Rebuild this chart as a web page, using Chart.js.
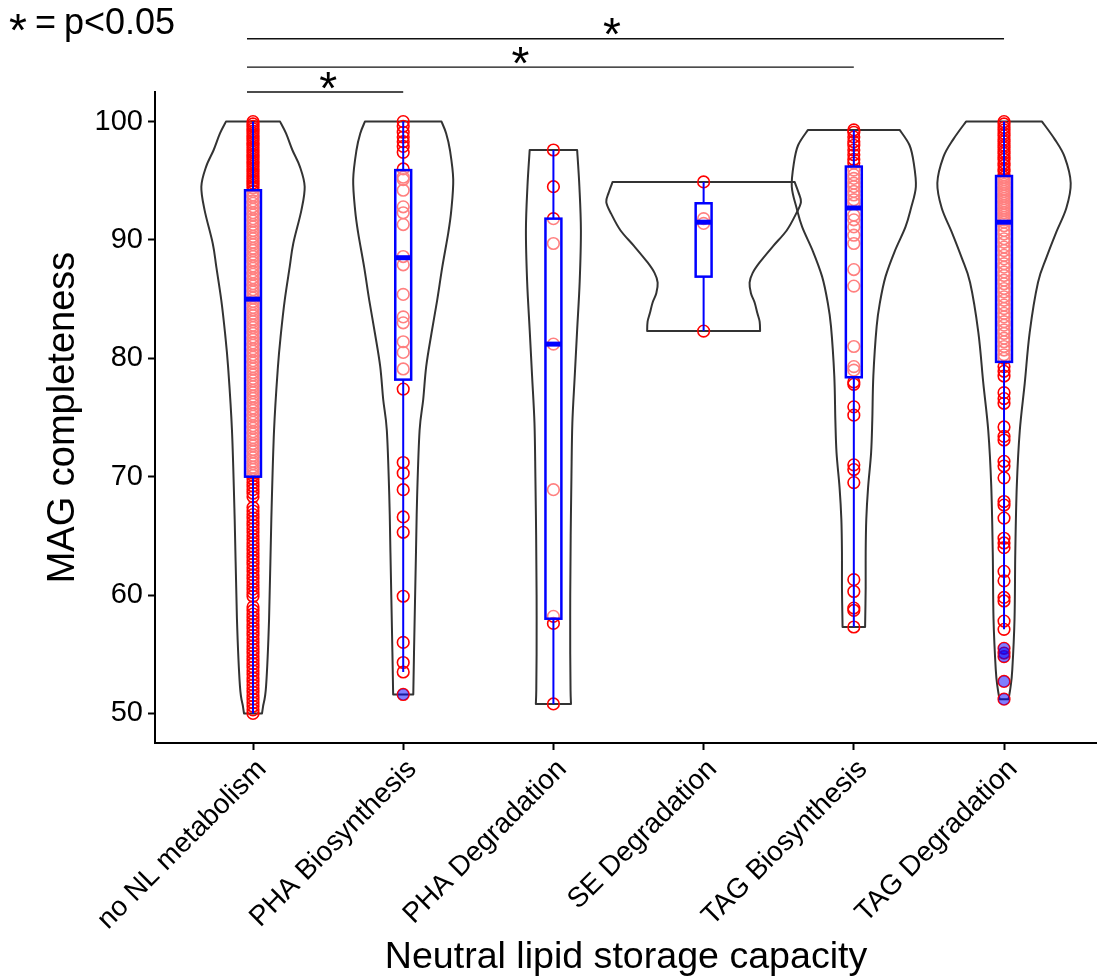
<!DOCTYPE html>
<html>
<head>
<meta charset="utf-8">
<script src="https://cdn.jsdelivr.net/npm/chart.js@4/dist/chart.umd.min.js"></script>
<style>
  html, body { margin: 0; padding: 0; background: #fff; }
  #wrap { width: 1097px; height: 980px; }
</style>
</head>
<body>
<div id="wrap"><canvas id="c" width="1097" height="980"></canvas></div>
<script>
// ---- data ----
const categories = ['no NL metabolism', 'PHA Biosynthesis', 'PHA Degradation',
                    'SE Degradation', 'TAG Biosynthesis', 'TAG Degradation'];
const yTicks = [50, 60, 70, 80, 90, 100];

// MAG completeness of each genome, per group
const completenessNoNL = [100, 99.8, 99.6, 99.4, 99.2, 99.0, 98.8, 98.6, 98.4, 98.2, 98.0, 97.8, 97.6, 97.4, 97.2,
  97.0, 96.8, 96.6, 96.4, 96.2, 96.0, 95.8, 95.6, 95.4, 95.2, 95.0, 94.8, 94.6, 94.4,
  94.1, 93.8, 93.6, 93.3, 93.1, 92.8, 92.6, 92.3, 92.1, 91.8, 91.6, 91.3, 91.1, 90.8, 90.6, 90.3, 90.1, 89.8,
  89.6, 89.3, 89.1, 88.8, 88.6, 88.3, 88.1, 87.8, 87.6, 87.3, 87.1, 86.8, 86.6, 86.3, 86.1, 85.8, 85.6, 85.3,
  85.1, 84.8, 84.6, 84.3, 84.1, 83.8, 83.6, 83.3, 83.1, 82.8, 82.6, 82.3, 82.1, 81.8, 81.6, 81.3, 81.1, 80.8,
  80.6, 80.3, 80.1, 79.8, 79.6, 79.3, 79.1, 78.8, 78.6, 78.3, 78.1, 77.8, 77.6, 77.3, 77.1, 76.8, 76.6, 76.3,
  76.1, 75.8, 75.6, 75.3, 75.1, 74.8, 74.6, 74.3, 74.1, 73.8, 73.6, 73.3, 73.1, 72.8, 72.6, 72.3, 72.1, 71.8,
  71.6, 71.3, 71.1, 70.8, 70.6, 70.3, 70.1,
  69.8, 69.5, 69.2, 68.9, 68.6, 68.3, 67.4, 67.1, 66.8, 66.5, 66.2, 65.9, 65.6, 65.3, 65.0, 64.7, 64.4, 64.1,
  63.8, 63.5, 63.2, 62.9, 62.6, 62.3, 62.0, 61.7, 61.4, 61.1, 60.8, 60.5, 60.2, 59.9, 59.0, 58.7, 58.4, 58.1,
  57.8, 57.5, 57.2, 56.9, 56.6, 56.3, 56.0, 55.7, 55.4, 55.1, 54.8, 54.5, 54.2, 53.9, 53.6, 53.3, 53.0, 52.7,
  52.4, 52.1, 51.8, 51.5, 51.2, 50.9, 50.6, 50.3, 50.0];
const completenessPhaBio = [100.0, 99.6, 99.1, 98.7, 98.3, 97.9, 97.4, 96.0, 95.3, 95.1, 94.2, 92.8, 92.3, 91.3,
  88.6, 87.9, 85.4, 83.5, 83.0, 81.4, 80.5, 79.1, 77.4, 71.2, 70.3, 68.9, 66.6, 65.3, 59.9, 56.0, 54.3, 53.5, 51.6];
const completenessPhaDeg = [97.6, 94.5, 91.8, 89.7, 81.2, 68.9, 58.2, 57.6, 50.8];
const completenessSeDeg = [94.9, 91.8, 91.4, 82.3];
const completenessTagBio = [99.3, 99.1, 98.7, 98.3, 98.0, 97.6, 97.2, 96.8, 96.5, 95.9, 95.5, 95.2, 94.8, 94.5,
  94.1, 93.8, 93.4, 93.1, 92.1, 91.7, 91.1, 90.4, 89.7, 87.5, 86.1, 81.0, 79.3, 79.0, 78.0, 77.8, 75.9, 75.2, 71.0,
  70.6, 69.5, 61.3, 60.3, 58.9, 58.7, 57.3];
const completenessTagDeg = [100, 99.8, 99.5, 99.3, 99.0, 98.8, 98.5, 98.3, 98.0, 97.8, 97.5, 97.3, 97.0, 96.8,
  96.5, 96.3, 96.0, 95.8, 95.5, 95.3, 95.1, 94.9, 94.7, 94.5, 94.3, 94.1, 93.9, 93.7, 93.5, 93.3, 93.1, 92.9,
  92.7, 92.5, 92.3, 92.1, 91.9, 91.7, 91.5, 91.2, 90.8, 90.5, 90.1, 89.8, 89.4, 89.1, 88.7, 88.4, 88.0, 87.7,
  87.3, 87.0, 86.6, 86.3, 85.9, 85.6, 85.2, 84.9, 84.5, 84.2, 83.8, 83.5, 83.1, 82.8, 82.4, 82.1, 81.7, 81.4,
  81.0, 80.7, 80.3, 80.0, 79.3, 78.9, 78.5, 77.1, 76.6, 76.2, 74.2, 73.4, 73.1, 71.3, 70.9, 69.9, 67.9, 67.6,
  66.5, 64.8, 64.4, 64.0, 62.0, 61.2, 59.8, 59.5, 57.8, 57.1, 55.5, 55.1, 54.8, 52.7, 51.2];
const groupValues = [completenessNoNL, completenessPhaBio, completenessPhaDeg,
                     completenessSeDeg, completenessTagBio, completenessTagDeg];

// box-plot summaries (whisker ends, quartiles, median) and outliers
const whiskerLow = [50.0, 53.5, 50.8, 82.3, 57.3, 57.1];
const quartile1  = [70.0, 78.2, 58.0, 86.9, 78.4, 79.7];
const medians    = [85.0, 88.5, 81.2, 91.5, 92.7, 91.5];
const quartile3  = [94.2, 95.9, 91.8, 93.1, 96.2, 95.4];
const whiskerHigh = [100, 100, 97.6, 94.9, 99.3, 100];
const outliers   = [[], [51.6], [], [], [], [55.5, 55.1, 54.8, 52.7, 51.2]];

// violin outlines: completeness levels and kernel-density half-widths (in category units)
const violinLevels = [
  [100, 99.0, 97.6, 96.2, 94.5, 92.5, 89.7, 87.7, 84.9, 82.1, 79.3, 73.9, 66.4, 58.0, 52.3, 50.6, 50.0],
  [100, 99.0, 97.6, 95.1, 92.5, 90.6, 87.7, 84.9, 82.1, 79.3, 76.5, 73.9, 68.5, 63.6, 55.2, 51.6],
  [97.6, 94.5, 90.8, 86.5, 82.4, 78.5, 74.5, 70.0, 65.0, 60.0, 55.0, 52.0, 50.8],
  [94.9, 94.0, 93.2, 92.2, 90.8, 89.5, 88.1, 87.2, 86.4, 85.5, 84.7, 83.8, 83.1, 82.3],
  [99.3, 98.0, 96.5, 94.5, 92.7, 91.1, 89.0, 86.9, 84.8, 82.7, 78.5, 74.8, 72.0, 69.1, 66.4, 63.6, 60.7, 57.3],
  [100, 98.5, 97.0, 94.8, 92.7, 90.6, 88.5, 86.4, 82.2, 77.9, 73.9, 69.2, 63.6, 58.0, 53.7, 52.2, 51.2]
];
const violinHalfWidths = [
  [0.180, 0.220, 0.262, 0.312, 0.344, 0.322, 0.268, 0.244, 0.211, 0.186, 0.166, 0.140, 0.122, 0.107, 0.087, 0.067, 0.060],
  [0.255, 0.286, 0.311, 0.333, 0.320, 0.300, 0.260, 0.226, 0.188, 0.153, 0.133, 0.109, 0.093, 0.085, 0.072, 0.067],
  [0.158, 0.173, 0.183, 0.175, 0.158, 0.142, 0.126, 0.120, 0.115, 0.112, 0.112, 0.114, 0.117],
  [0.606, 0.632, 0.648, 0.615, 0.553, 0.464, 0.373, 0.326, 0.306, 0.315, 0.340, 0.358, 0.373, 0.376],
  [0.305, 0.371, 0.399, 0.413, 0.381, 0.344, 0.271, 0.211, 0.175, 0.152, 0.130, 0.123, 0.115, 0.095, 0.083, 0.079, 0.079, 0.075],
  [0.253, 0.338, 0.404, 0.444, 0.415, 0.346, 0.282, 0.226, 0.171, 0.138, 0.105, 0.085, 0.075, 0.070, 0.055, 0.043, 0.030]
];

// significance brackets (pairwise tests against "no NL metabolism")
const bracketFrom  = [0.96, 0.96, 0.96];
const bracketTo    = [2, 5, 6];
const bracketLevel = [102.5, 104.6, 107.0];
const bracketStarX = [1.5, 2.78, 3.39];

// ---- drawing ----
const FONT = '"Liberation Sans", Arial, Helvetica, sans-serif';
const BOX_HALF = 0.053;

function smoothThrough(ctx, pts) {
  for (let i = 0; i < pts.length - 1; i++) {
    const p0 = pts[i - 1] || pts[i], p1 = pts[i], p2 = pts[i + 1], p3 = pts[i + 2] || pts[i + 1];
    ctx.bezierCurveTo(p1.x + (p2.x - p0.x) / 6, p1.y + (p2.y - p0.y) / 6,
                      p2.x - (p3.x - p1.x) / 6, p2.y - (p3.y - p1.y) / 6, p2.x, p2.y);
  }
}

const violinPlugin = {
  id: 'violins',
  beforeDatasetsDraw(chart) {
    const {ctx, scales: {x, y}} = chart;
    ctx.save();
    violinLevels.forEach((levels, i) => {
      const c = i + 1, w = violinHalfWidths[i];
      const right = levels.map((v, k) => ({x: x.getPixelForValue(c + w[k]), y: y.getPixelForValue(v)}));
      const left = levels.map((v, k) => ({x: x.getPixelForValue(c - w[k]), y: y.getPixelForValue(v)})).reverse();
      ctx.beginPath();
      ctx.moveTo(left[left.length - 1].x, left[left.length - 1].y);
      ctx.lineTo(right[0].x, right[0].y);
      smoothThrough(ctx, right);
      ctx.lineTo(left[0].x, left[0].y);
      smoothThrough(ctx, left);
      ctx.closePath();
      ctx.lineWidth = 2;
      ctx.strokeStyle = '#333333';
      ctx.lineJoin = 'round';
      ctx.stroke();
    });
    ctx.restore();
  }
};

const boxPlugin = {
  id: 'boxes',
  afterDatasetsDraw(chart) {
    const {ctx, scales: {x, y}} = chart;
    ctx.save();
    categories.forEach((name, i) => {
      const c = i + 1;
      const cx = x.getPixelForValue(c);
      const xl = x.getPixelForValue(c - BOX_HALF), xr = x.getPixelForValue(c + BOX_HALF);
      const yq1 = y.getPixelForValue(quartile1[i]), yq3 = y.getPixelForValue(quartile3[i]);
      ctx.strokeStyle = '#0000ff';
      ctx.lineWidth = 2;
      ctx.beginPath();
      ctx.moveTo(cx, y.getPixelForValue(whiskerLow[i])); ctx.lineTo(cx, yq1);
      ctx.moveTo(cx, yq3); ctx.lineTo(cx, y.getPixelForValue(whiskerHigh[i]));
      ctx.stroke();
      ctx.fillStyle = 'rgba(255,255,255,0.5)';
      ctx.fillRect(xl, yq3, xr - xl, yq1 - yq3);
      ctx.lineWidth = 2.5;
      ctx.strokeRect(xl, yq3, xr - xl, yq1 - yq3);
      ctx.lineWidth = 5;
      ctx.beginPath();
      const ym = y.getPixelForValue(medians[i]);
      ctx.moveTo(xl, ym); ctx.lineTo(xr, ym);
      ctx.stroke();
      ctx.fillStyle = 'rgba(0,0,255,0.5)';
      outliers[i].forEach(v => {
        ctx.beginPath();
        ctx.arc(cx, y.getPixelForValue(v), 5.6, 0, Math.PI * 2);
        ctx.fill();
      });
    });
    ctx.restore();
  }
};

function drawStar(ctx, cx, cy, size) {
  ctx.font = size + 'px ' + FONT;
  ctx.textAlign = 'center';
  ctx.textBaseline = 'alphabetic';
  const m = ctx.measureText('*');
  const base = cy - (m.actualBoundingBoxDescent - m.actualBoundingBoxAscent) / 2;
  ctx.fillText('*', cx, base);
}

const annotationPlugin = {
  id: 'significance',
  afterDraw(chart) {
    const {ctx, scales: {x, y}} = chart;
    ctx.save();
    ctx.fillStyle = '#000';
    ctx.strokeStyle = '#111';
    ctx.lineWidth = 1.3;
    bracketTo.forEach((to, k) => {
      const yy = y.getPixelForValue(bracketLevel[k]);
      ctx.beginPath();
      ctx.moveTo(x.getPixelForValue(bracketFrom[k]), yy);
      ctx.lineTo(x.getPixelForValue(to), yy);
      ctx.stroke();
      drawStar(ctx, x.getPixelForValue(bracketStarX[k]), yy - 12, 46);
    });
    // key in the top-left corner
    drawStar(ctx, 18, 22, 46);
    ctx.font = '36px ' + FONT;
    ctx.textAlign = 'left';
    ctx.textBaseline = 'alphabetic';
    ctx.fillText('=', 35, 34);
    ctx.fillText('p<0.05', 64, 34);
    ctx.restore();
  }
};

const pointData = [];
groupValues.forEach((vals, i) => vals.forEach(v => pointData.push({x: i + 1, y: v})));

const axisGrid = {display: true, drawOnChartArea: false, drawTicks: true, tickLength: 7,
                  tickWidth: 2, tickColor: '#000', color: '#000'};
const axisBorder = {display: true, color: '#000', width: 2};

new Chart(document.getElementById('c'), {
  type: 'scatter',
  data: {
    datasets: [{
      data: pointData,
      pointStyle: 'circle',
      pointRadius: 5.8,
      pointBorderWidth: 1.6,
      pointBorderColor: '#ff0000',
      pointBackgroundColor: 'rgba(0,0,0,0)',
      clip: false
    }]
  },
  options: {
    responsive: false,
    animation: false,
    events: [],
    layout: {autoPadding: false, padding: {top: 92, left: 0, right: 0, bottom: 0}},
    plugins: {legend: {display: false}, tooltip: {enabled: false}},
    scales: {
      x: {
        type: 'linear',
        min: 0.3475,
        max: 6.619,
        afterBuildTicks: s => { s.ticks = categories.map((c, i) => ({value: i + 1})); },
        afterFit: s => { s.height = 237; s.paddingLeft = 0; s.paddingRight = 0; },
        ticks: {
          autoSkip: false, minRotation: 45, maxRotation: 45,
          color: '#000', padding: 3, labelOffset: 9,
          font: {family: FONT, size: 28},
          callback: v => categories[Math.round(v) - 1] ?? ''
        },
        grid: axisGrid,
        border: axisBorder,
        title: {display: true, text: 'Neutral lipid storage capacity', color: '#000',
                font: {family: FONT, size: 37.6}, padding: {top: 0, bottom: 0}}
      },
      y: {
        type: 'linear',
        min: 47.5,
        max: 102.5,
        afterBuildTicks: s => { s.ticks = yTicks.map(v => ({value: v})); },
        afterFit: s => { s.width = 155; },
        ticks: {color: '#000', padding: 5, font: {family: FONT, size: 29}},
        grid: axisGrid,
        border: axisBorder,
        title: {display: true, text: 'MAG completeness', color: '#000',
                font: {family: FONT, size: 38}, padding: {top: 41, bottom: 0}}
      }
    }
  },
  plugins: [violinPlugin, boxPlugin, annotationPlugin]
});
</script>
</body>
</html>
